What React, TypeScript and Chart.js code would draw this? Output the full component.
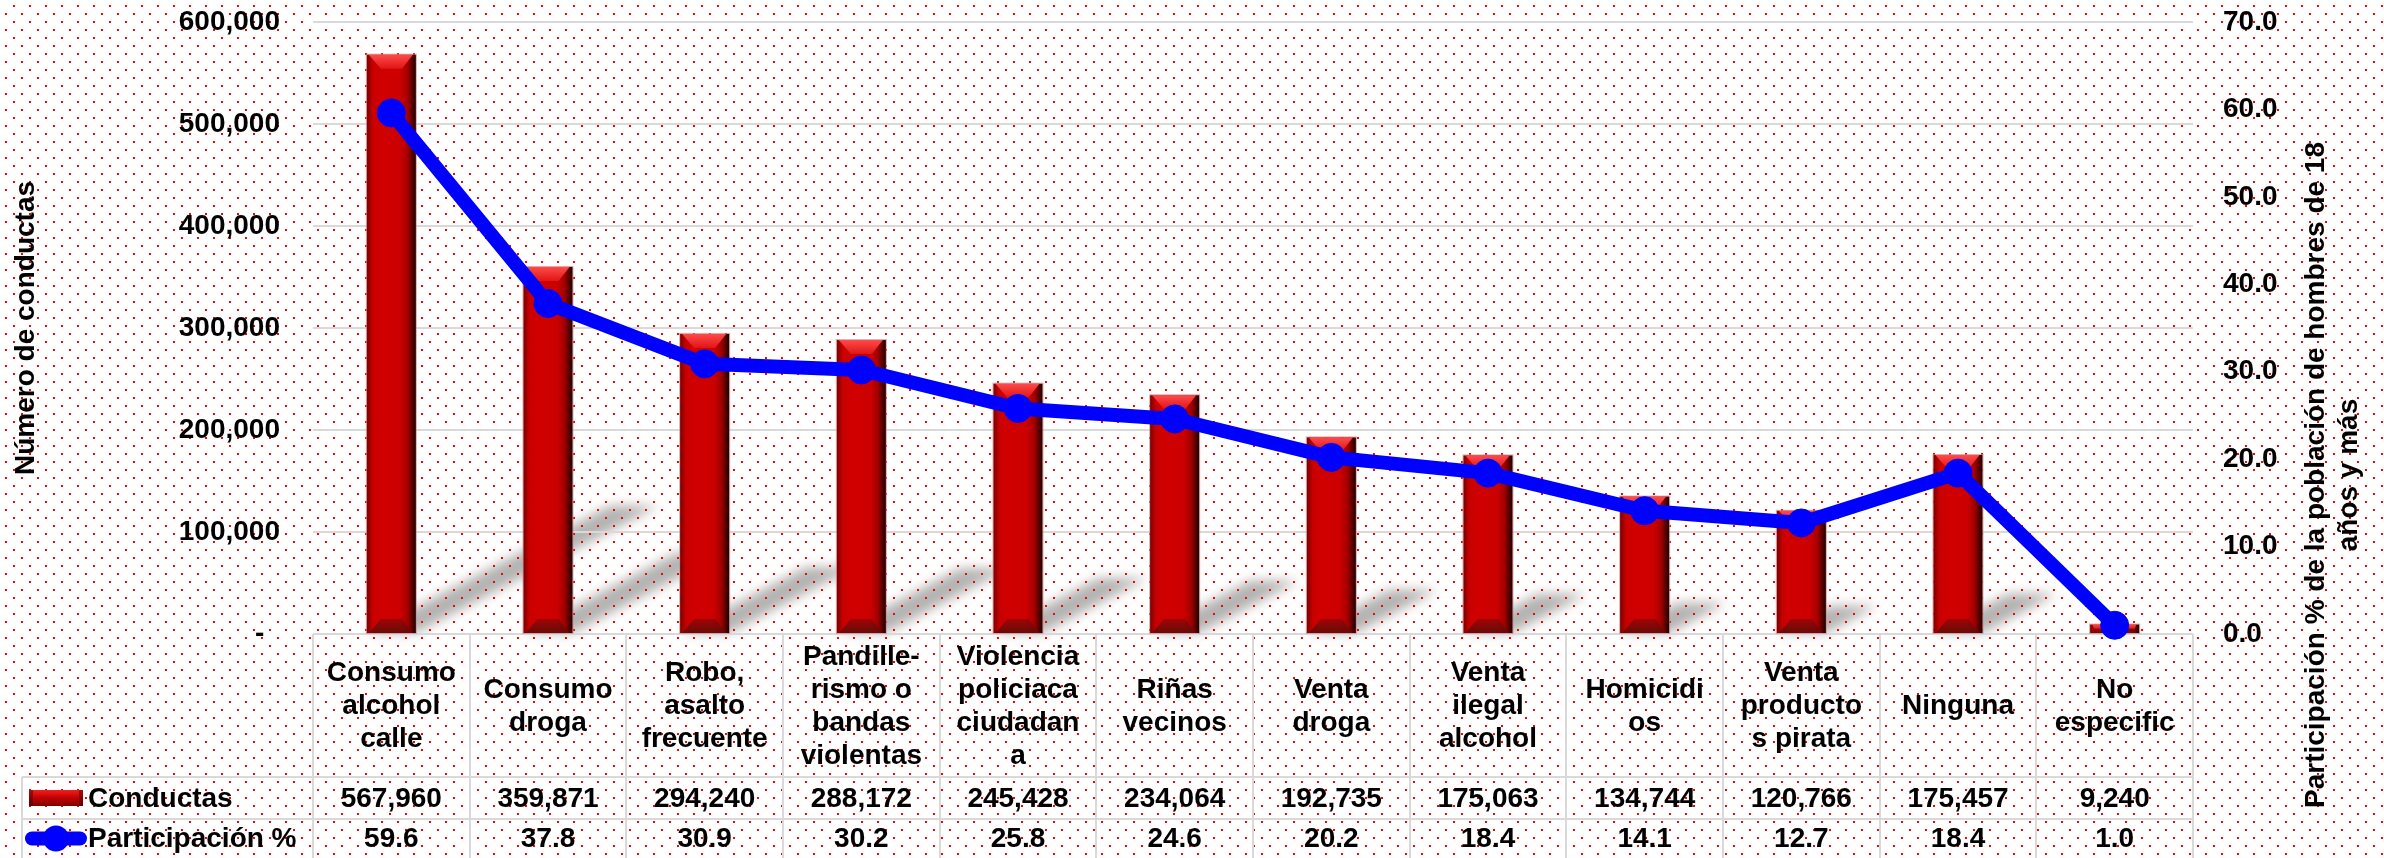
import React, { useEffect, useRef } from 'react';
import { Chart, registerables } from 'chart.js';

Chart.register(...registerables);

// ---------- data ----------
const categories: string[][] = [
  ['Consumo', 'alcohol', 'calle'],
  ['Consumo', 'droga'],
  ['Robo,', 'asalto', 'frecuente'],
  ['Pandille-', 'rismo o', 'bandas', 'violentas'],
  ['Violencia', 'policiaca', 'ciudadan', 'a'],
  ['Riñas', 'vecinos'],
  ['Venta', 'droga'],
  ['Venta', 'ilegal', 'alcohol'],
  ['Homicidi', 'os'],
  ['Venta', 'producto', 's pirata'],
  ['Ninguna'],
  ['No', 'especific'],
];
const conductas: number[] = [567960, 359871, 294240, 288172, 245428, 234064, 192735, 175063, 134744, 120766, 175457, 9240];
const participacion: number[] = [59.6, 37.8, 30.9, 30.2, 25.8, 24.6, 20.2, 18.4, 14.1, 12.7, 18.4, 1.0];
const seriesNames: string[] = ['Conductas', 'Participación %'];
const leftTitle = 'Número de conductas';
const rightTitle: string[] = ['Participación % de la población de hombres de 18', 'años y más'];
const leftAxisRange: number[] = [0, 600000, 100000];
const rightAxisRange: number[] = [0, 70, 10];

// ---------- styling ----------
const FAMILY = '"Liberation Sans", Arial, Helvetica, sans-serif';
const FONT_SIZE = 28;
const FONT = `bold ${FONT_SIZE}px ${FAMILY}`;
const GRID = '#d9d9d9';
const W = 2384;
const H = 858;

function makeDotPattern(ctx: CanvasRenderingContext2D) {
  const off = document.createElement('canvas');
  off.width = 16;
  off.height = 16;
  const o = off.getContext('2d')!;
  o.fillStyle = '#ff0000';
  o.fillRect(13, 5, 2, 2);
  o.fillRect(5, 13, 2, 2);
  return ctx.createPattern(off, 'repeat');
}

const backgroundPlugin = {
  id: 'bgAndShadows',
  beforeDraw(chart: any) {
    const ctx: CanvasRenderingContext2D = chart.ctx;
    ctx.save();
    ctx.fillStyle = '#ffffff';
    ctx.fillRect(0, 0, chart.width, chart.height);
    // perspective shadows of the bars
    const meta = chart.getDatasetMeta(1);
    ctx.filter = 'blur(6px)';
    ctx.fillStyle = 'rgba(0,0,0,0.3)';
    meta.data.forEach((el: any) => {
      const xl = el.x - el.width / 2;
      const xr = el.x + el.width / 2;
      const h = el.base - el.y;
      const dx = 0.42 * h;
      const dy = -0.22 * h;
      ctx.beginPath();
      ctx.moveTo(xl, el.base);
      ctx.lineTo(xr, el.base);
      ctx.lineTo(xr + dx, el.base + dy);
      ctx.lineTo(xl + dx, el.base + dy);
      ctx.closePath();
      ctx.fill();
    });
    ctx.filter = 'none';
    const pat = makeDotPattern(ctx);
    if (pat) {
      ctx.fillStyle = pat;
      ctx.fillRect(0, 0, chart.width, chart.height);
    }
    ctx.restore();
  },
};

function drawBevelBar(ctx: CanvasRenderingContext2D, xl: number, xr: number, top: number, bottom: number) {
  const w = xr - xl;
  const h = bottom - top;
  if (h <= 0) return;
  const g = ctx.createLinearGradient(xl, 0, xr, 0);
  g.addColorStop(0, '#7a0000');
  g.addColorStop(0.12, '#c80000');
  g.addColorStop(0.3, '#d00000');
  g.addColorStop(0.68, '#cc0000');
  g.addColorStop(0.84, '#a00000');
  g.addColorStop(1, '#1a0000');
  ctx.fillStyle = g;
  ctx.fillRect(xl, top, w, h);
  const b = Math.min(14, h / 2, w / 2);
  // top bevel
  const gt = ctx.createLinearGradient(0, top, 0, top + b);
  gt.addColorStop(0, '#ff4a4a');
  gt.addColorStop(1, '#e01515');
  ctx.fillStyle = gt;
  ctx.beginPath();
  ctx.moveTo(xl + 2, top);
  ctx.lineTo(xr - 3, top);
  ctx.lineTo(xr - b, top + b);
  ctx.lineTo(xl + b, top + b);
  ctx.closePath();
  ctx.fill();
  // bottom bevel
  const gb = ctx.createLinearGradient(0, bottom - b, 0, bottom);
  gb.addColorStop(0, 'rgba(110,10,10,0.5)');
  gb.addColorStop(1, 'rgba(100,10,10,0.95)');
  ctx.fillStyle = gb;
  ctx.beginPath();
  ctx.moveTo(xl + 2, bottom);
  ctx.lineTo(xr - 3, bottom);
  ctx.lineTo(xr - b, bottom - b);
  ctx.lineTo(xl + b, bottom - b);
  ctx.closePath();
  ctx.fill();
  ctx.strokeStyle = 'rgba(200,140,140,0.7)';
  ctx.lineWidth = 1;
  ctx.strokeRect(xl - 0.5, top - 0.5, w + 1, h + 1);
}

const bevelPlugin = {
  id: 'bevelBars',
  afterDatasetDraw(chart: any, args: any) {
    if (args.meta.type !== 'bar') return;
    const ctx: CanvasRenderingContext2D = chart.ctx;
    ctx.save();
    args.meta.data.forEach((el: any) => {
      drawBevelBar(ctx, el.x - el.width / 2, el.x + el.width / 2, el.y, el.base);
    });
    ctx.restore();
  },
};

const tablePlugin = {
  id: 'dataTable',
  beforeDatasetsDraw(chart: any) {
    const ctx: CanvasRenderingContext2D = chart.ctx;
    const xs = chart.scales.x;
    const area = chart.chartArea;
    const n = chart.data.labels.length;
    const step = area.width / n;
    const top = area.bottom;
    const rowA = top + 143;
    const rowB = rowA + 42;
    const bottom = H;
    const legendLeft = 22;
    ctx.save();
    ctx.strokeStyle = GRID;
    ctx.lineWidth = 2;
    ctx.beginPath();
    ctx.moveTo(area.left, top);
    ctx.lineTo(area.right, top);
    ctx.moveTo(legendLeft, rowA);
    ctx.lineTo(area.right, rowA);
    ctx.moveTo(legendLeft, rowB);
    ctx.lineTo(area.right, rowB);
    ctx.moveTo(legendLeft, rowA);
    ctx.lineTo(legendLeft, bottom);
    for (let k = 0; k <= n; k++) {
      const x = Math.round(area.left + k * step);
      ctx.moveTo(x, top);
      ctx.lineTo(x, bottom);
    }
    ctx.stroke();

    ctx.fillStyle = '#000';
    ctx.font = FONT;
    ctx.textAlign = 'center';
    ctx.textBaseline = 'middle';
    const lh = 33;
    const catMid = (top + rowA) / 2 + 1;
    chart.data.labels.forEach((lab: string[], i: number) => {
      const cx = xs.getPixelForValue(i);
      const lines = Array.isArray(lab) ? lab : [lab];
      const y0 = catMid - ((lines.length - 1) * lh) / 2;
      lines.forEach((t, j) => ctx.fillText(t, cx, y0 + j * lh));
      ctx.fillText(conductas[i].toLocaleString('en-US'), cx, (rowA + rowB) / 2 + 1);
      ctx.fillText(participacion[i].toFixed(1), cx, (rowB + bottom) / 2 + 1);
    });

    // legend keys
    const yA = (rowA + rowB) / 2;
    const yB = (rowB + bottom) / 2;
    ctx.save();
    const gi = ctx.createLinearGradient(0, yA - 8, 0, yA + 8);
    gi.addColorStop(0, '#f02020');
    gi.addColorStop(0.5, '#c00000');
    gi.addColorStop(1, '#800000');
    ctx.fillStyle = gi;
    ctx.fillRect(29, yA - 8, 54, 16);
    ctx.fillStyle = 'rgba(60,0,0,0.45)';
    ctx.fillRect(29, yA - 8, 4, 16);
    ctx.fillRect(79, yA - 8, 4, 16);
    ctx.restore();
    ctx.strokeStyle = '#0000ff';
    ctx.lineWidth = 14;
    ctx.lineCap = 'round';
    ctx.beginPath();
    ctx.moveTo(32, yB);
    ctx.lineTo(80, yB);
    ctx.stroke();
    ctx.fillStyle = '#0000ff';
    ctx.beginPath();
    ctx.arc(56, yB, 13, 0, Math.PI * 2);
    ctx.fill();

    ctx.fillStyle = '#000';
    ctx.textAlign = 'left';
    ctx.fillText(seriesNames[0], 88, yA + 1);
    ctx.fillText(seriesNames[1], 88, yB + 1);
    ctx.restore();
  },
  afterDraw(chart: any) {
    const ctx: CanvasRenderingContext2D = chart.ctx;
    ctx.save();
    ctx.fillStyle = '#000';
    ctx.font = FONT;
    ctx.textAlign = 'center';
    ctx.textBaseline = 'middle';
    ctx.translate(26, (chart.chartArea.top + chart.chartArea.bottom) / 2);
    ctx.rotate(-Math.PI / 2);
    ctx.fillText(leftTitle, 0, 0);
    ctx.restore();

    ctx.save();
    ctx.fillStyle = '#000';
    ctx.font = FONT;
    ctx.textAlign = 'center';
    ctx.textBaseline = 'middle';
    ctx.translate(2316, 475);
    ctx.rotate(-Math.PI / 2);
    rightTitle.forEach((t, j) => ctx.fillText(t, 0, j * 33));
    ctx.restore();
  },
};

export default function App() {
  const ref = useRef<HTMLCanvasElement>(null);
  useEffect(() => {
    document.body.style.margin = '0';
    document.body.style.overflow = 'hidden';
    const canvas = ref.current!;
    Chart.defaults.font.family = FAMILY;
    const chart = new Chart(canvas, {
      type: 'bar',
      data: {
        labels: categories,
        datasets: [
          {
            type: 'line',
            label: seriesNames[1],
            data: participacion,
            yAxisID: 'y1',
            borderColor: '#0000ff',
            backgroundColor: '#0000ff',
            borderWidth: 14,
            pointRadius: 14,
            pointBorderWidth: 1,
            pointBorderColor: '#0000ff',
            pointBackgroundColor: '#0000ff',
            borderCapStyle: 'round',
            borderJoinStyle: 'round',
            tension: 0,
            order: 0,
            clip: false,
          } as any,
          {
            type: 'bar',
            label: seriesNames[0],
            data: conductas,
            yAxisID: 'y',
            backgroundColor: '#cc0000',
            borderWidth: 0,
            barPercentage: 0.313,
            categoryPercentage: 1.0,
            order: 1,
          } as any,
        ],
      },
      options: {
        responsive: false,
        animation: false,
        devicePixelRatio: 1,
        layout: { padding: { top: 22, left: 0, right: 0, bottom: 0 } },
        plugins: {
          legend: { display: false },
          tooltip: { enabled: false },
          title: { display: false },
        },
        scales: {
          x: {
            grid: { display: false },
            border: { display: false },
            ticks: { display: false },
            afterFit: (s: any) => {
              s.height = 224;
              s.paddingLeft = 0;
              s.paddingRight = 0;
            },
          },
          y: {
            position: 'left',
            min: leftAxisRange[0],
            max: leftAxisRange[1],
            ticks: {
              stepSize: leftAxisRange[2],
              padding: 33,
              color: '#000',
              font: { size: FONT_SIZE, weight: 'bold', family: FAMILY },
              callback: (v: any) => (Number(v) === 0 ? '-  ' : Number(v).toLocaleString('en-US')),
            },
            grid: { color: GRID, lineWidth: 2, drawTicks: false },
            border: { display: false },
            afterFit: (s: any) => {
              s.width = 313;
              s.paddingTop = 0;
              s.paddingBottom = 0;
            },
          },
          y1: {
            position: 'right',
            min: rightAxisRange[0],
            max: rightAxisRange[1],
            ticks: {
              stepSize: rightAxisRange[2],
              padding: 30,
              color: '#000',
              font: { size: FONT_SIZE, weight: 'bold', family: FAMILY },
              callback: (v: any) => Number(v).toFixed(1),
            },
            grid: { display: false, drawTicks: false },
            border: { display: false },
            afterFit: (s: any) => {
              s.width = W - 2193;
              s.paddingTop = 0;
              s.paddingBottom = 0;
            },
          },
        },
      } as any,
      plugins: [backgroundPlugin, bevelPlugin, tablePlugin],
    });
    return () => chart.destroy();
  }, []);
  return (
    <div style={{ position: 'absolute', left: 0, top: 0, width: W, height: H, overflow: 'hidden' }}>
      <canvas ref={ref} width={W} height={H} style={{ display: 'block', width: W, height: H }} />
    </div>
  );
}
